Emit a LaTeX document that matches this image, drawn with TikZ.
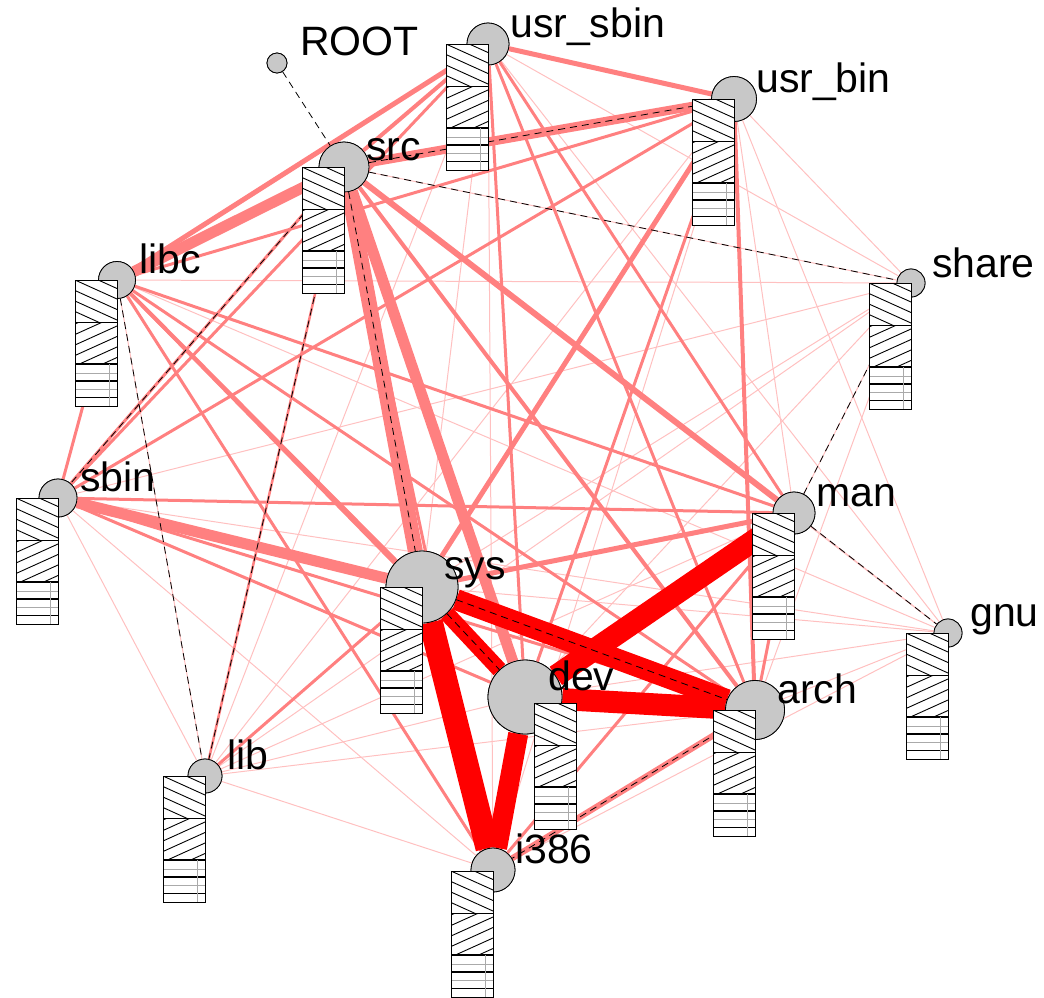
\documentclass[tikz,border=0pt]{standalone}
\usepackage{fontspec}
\setmainfont{Liberation Sans}
\definecolor{lt}{RGB}{255,192,192}
\definecolor{md}{RGB}{255,128,128}
\definecolor{rd}{RGB}{255,0,0}
\definecolor{nodegray}{RGB}{200,200,200}
\definecolor{hgray}{RGB}{170,170,170}
\tikzset{
  vtx/.style={circle, draw=black, line width=0.8pt, fill=nodegray, inner sep=0pt, minimum size=#1},
  lab/.style={anchor=base west, inner sep=0pt, font=\fontsize{41}{41}\selectfont},
  el/.style={draw=lt, line width=1pt},
  em/.style={draw=md, line width=#1},
  er/.style={draw=rd, line width=#1},
  tree/.style={draw=black, line width=0.8pt, dash pattern=on 7pt off 5pt},
  hatch/.style={draw=black, line width=0.9pt},
  hatchthin/.style={draw=hgray, line width=0.7pt},
}
% bar with top-right corner at (#1,#2)
\newcommand\nodebar[2]{%
  \begin{scope}[shift={(#1,#2)}]
    \fill[white] (-42,0) rectangle (0,126);
    \begin{scope}
      \clip (-42,0) rectangle (0,42);
      \foreach \c in {-21,-10.5,...,44} {\draw[hatch] (-42,\c) -- (0,\c+19);}
    \end{scope}
    \begin{scope}
      \clip (-42,42) rectangle (0,84);
      \foreach \c in {44,54.5,...,110} {\draw[hatch] (-42,\c) -- (0,\c-19);}
    \end{scope}
    \draw[hatch, line width=1.8pt] (-42,84) -- (0,84);
    \draw[hatchthin] (-42,93) -- (0,93);
    \draw[hatch, line width=1.8pt] (-42,101) -- (0,101);
    \draw[hatchthin] (-42,109.5) -- (0,109.5);
    \draw[hatch, line width=1.8pt] (-42,117.5) -- (0,117.5);
    \draw[hatchthin] (-8,84) -- (-8,126);
    \draw[line width=0.9pt] (-42,0) rectangle (0,126);
    \draw[line width=0.9pt] (-42,42) -- (0,42);
  \end{scope}%
}
\begin{document}
\begin{tikzpicture}[x=1pt,y=-1pt]
\useasboundingbox (0,0) rectangle (1044,997);
% vertices
\node[vtx=20pt] (root) at (277,63) {};
\node[vtx=42pt] (usrsbin) at (488,44) {};
\node[vtx=45pt] (usrbin) at (734,99) {};
\node[vtx=50pt] (src) at (344,167) {};
\node[vtx=37pt] (libc) at (117,280) {};
\node[vtx=28pt] (share) at (911,283) {};
\node[vtx=38pt] (sbin) at (58,498) {};
\node[vtx=42pt] (man) at (794,513) {};
\node[vtx=72pt] (sys) at (422,587) {};
\node[vtx=28pt] (gnu) at (948,633) {};
\node[vtx=74pt] (dev) at (525,697) {};
\node[vtx=59pt] (arch) at (755,710) {};
\node[vtx=34pt] (lib) at (205,776) {};
\node[vtx=44pt] (i386) at (493,870) {};
% edges: light
\foreach \a/\b in {usrsbin/share, usrsbin/gnu, usrsbin/i386, usrsbin/lib, usrsbin/sys,
  usrbin/share, usrbin/gnu, usrbin/lib, usrbin/man, usrbin/i386,
  src/gnu, libc/share, libc/gnu, libc/lib, sbin/lib, sbin/i386, sbin/gnu,
  share/sys, share/dev, share/arch, share/lib, share/sbin,
  gnu/sys, gnu/dev, gnu/arch, gnu/i386, man/lib, dev/lib, arch/lib, lib/i386,
  src/share, man/share, man/gnu}
  {\draw[el] (\a) -- (\b);}
% edges: medium
\foreach \a/\b/\w in {usrsbin/usrbin/5, usrsbin/src/4, usrsbin/libc/5, usrsbin/sbin/3,
  usrsbin/man/3, usrsbin/dev/3, usrsbin/arch/3,
  usrbin/src/9, usrbin/libc/3, usrbin/sbin/3, usrbin/sys/5, usrbin/dev/3, usrbin/arch/4,
  src/libc/11, src/sbin/3, src/man/6, src/sys/15, src/dev/11, src/arch/4, src/i386/3, src/lib/2.5,
  libc/sbin/3, libc/sys/4, libc/dev/3, libc/man/3, libc/arch/3, libc/i386/3,
  sbin/sys/11, sbin/man/3, sbin/dev/3, sbin/arch/3,
  man/sys/5, man/arch/3, man/i386/3, sys/lib/3, arch/i386/6}
  {\draw[em=\w pt] (\a) -- (\b);}
% edges: strong
\foreach \a/\b/\w in {man/dev/22, sys/dev/16, sys/arch/21, sys/i386/24, dev/arch/22, dev/i386/20}
  {\draw[er=\w pt] (\a) -- (\b);}
% tree
\foreach \a/\b in {root/src, src/usrbin, src/share, src/sys, src/lib, src/sbin, libc/lib,
  sys/dev, sys/arch, man/share, man/gnu, arch/i386}
  {\draw[tree] (\a) -- (\b);}
% redraw vertices on top
\foreach \n/\s in {root/20, usrsbin/42, usrbin/45, src/50, libc/37, share/28, sbin/38, man/42,
  sys/72, gnu/28, dev/74, arch/59, lib/34, i386/44}
  {\node[vtx=\s pt] at (\n) {};}
% bars
\nodebar{488}{44}
\nodebar{734}{99}
\nodebar{344}{167}
\nodebar{117}{280}
\nodebar{911}{283}
\nodebar{58}{498}
\nodebar{794}{513}
\nodebar{422}{587}
\nodebar{948}{633}
\nodebar{576}{703}
\nodebar{755}{710}
\nodebar{205}{776}
\nodebar{493}{871}
% labels
\node[lab] (root-l) at (300,55) {ROOT};
\node[lab] (usrsbin-l) at (510,37) {usr\_sbin};
\node[lab] (usrbin-l) at (756,92) {usr\_bin};
\node[lab] (src-l) at (366,160) {src};
\node[lab] (libc-l) at (139,273) {libc};
\node[lab] (share-l) at (932,277) {share};
\node[lab] (sbin-l) at (80,491) {sbin};
\node[lab] (man-l) at (816,506) {man};
\node[lab] (sys-l) at (444,579) {sys};
\node[lab] (gnu-l) at (970,626) {gnu};
\node[lab] (dev-l) at (548,690) {dev};
\node[lab] (arch-l) at (777,703) {arch};
\node[lab] (lib-l) at (227,769) {lib};
\node[lab] (i386-l) at (515,863) {i386};
\end{tikzpicture}
\end{document}
